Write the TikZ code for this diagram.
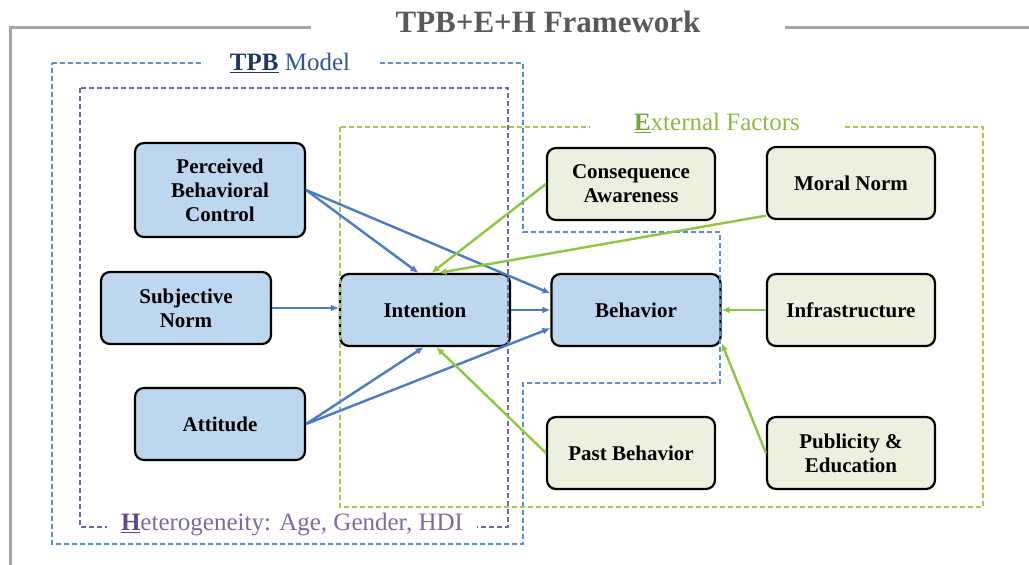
\documentclass[tikz,border=0pt]{standalone}
\usepackage{fontspec}
\setmainfont{Liberation Serif}
\usetikzlibrary{arrows.meta}

\definecolor{framegray}{HTML}{A6A6A6}
\definecolor{titlegray}{HTML}{595959}
\definecolor{tpbfill}{HTML}{BDD7EE}
\definecolor{extfill}{HTML}{EBF1DE}
\definecolor{tpbline}{HTML}{4A7CC4}
\definecolor{extline}{HTML}{8DC63F}
\definecolor{tpbdash}{HTML}{5B8FCF}
\definecolor{hetdash}{HTML}{7E63A3}
\definecolor{extdash}{HTML}{A8C84C}
\definecolor{tpbtext}{HTML}{2F5597}
\definecolor{tpbdark}{HTML}{1F3864}
\definecolor{hettext}{HTML}{7F6A9E}
\definecolor{hetdark}{HTML}{5E4A8B}
\definecolor{exttext}{HTML}{8DB944}
\definecolor{extdark}{HTML}{74A436}

\begin{document}
\begin{tikzpicture}[x=1pt,y=-1pt,
    tpbbox/.style={draw=black, line width=2.2pt, rounded corners=9pt, fill=tpbfill,
        minimum width=170pt, minimum height=72pt, align=center,
        font=\fontsize{21}{24}\selectfont\bfseries},
    extbox/.style={tpbbox, fill=extfill, minimum width=168pt},
    tpbarrow/.style={draw=tpbline, line width=2.4pt, -{Latex[length=8pt,width=7pt]}},
    extarrow/.style={tpbarrow, draw=extline},
    region/.style={line width=2.4pt, dash pattern=on 5pt off 3pt},
    regionlabel/.style={fill=white, inner ysep=2pt, font=\fontsize{25}{25}\selectfont}]
    \useasboundingbox (0,0) rectangle (1029,565);

    % frame and title
    \draw[framegray, line width=3pt] (10,565) -- (10,27) -- (1029,27);
    \node[fill=white, inner xsep=85pt, text=titlegray, font=\fontsize{31}{31}\selectfont\bfseries]
        (title) at (548,22) {TPB+E+H Framework};

    % constructs
    \node[tpbbox, minimum height=94pt] (pbc) at (220,190) {Perceived\\Behavioral\\Control};
    \node[tpbbox] (sn) at (186,308) {Subjective\\Norm};
    \node[tpbbox] (att) at (220,424) {Attitude};
    \node[tpbbox] (int) at (425,310) {Intention};
    \node[tpbbox, minimum width=169pt] (beh) at (636,310) {Behavior};

    \node[extbox] (ca) at (631,184) {Consequence\\Awareness};
    \node[extbox] (mn) at (851,183) {Moral Norm};
    \node[extbox] (inf) at (851,310) {Infrastructure};
    \node[extbox] (pb) at (631,453) {Past Behavior};
    \node[extbox] (pe) at (851,453) {Publicity \&\\Education};

    % regions
    \draw[region, draw=tpbdash] (52,63) -- (523,63) -- (523,232) -- (720,232) -- (720,383)
        -- (523,383) -- (523,544) -- (52,544) -- cycle;
    \draw[region, draw=hetdash] (80,88) rectangle (508,527);
    \draw[region, draw=extdash] (340,127) rectangle (983,507);

    \node[regionlabel, inner xsep=27pt, text=tpbtext] (tpblabel) at (290,63)
        {{\color{tpbdark}\underline{\textbf{TPB}}} Model};
    \node[regionlabel, inner xsep=44pt, text=exttext] (extlabel) at (717,123)
        {{\color{extdark}\underline{\textbf{E}}}xternal Factors};
    \node[regionlabel, inner xsep=14pt, text=hettext] (hetlabel) at (292,525)
        {{\color{hetdark}\underline{\textbf{H}}}eterogeneity: Age, Gender, HDI};

    % TPB paths
    \draw[tpbarrow] (pbc.east) -- (int.100);
    \draw[tpbarrow] (pbc.east) -- (beh.169);
    \draw[tpbarrow] (sn.east) -- (sn.east -| int.west);
    \draw[tpbarrow] (att.east) -- (int.268);
    \draw[tpbarrow] (att.east) -- (beh.192);
    \draw[tpbarrow] (int.east) -- (beh.west);

    % external factors
    \draw[extarrow] (ca.west) -- (int.80);
    \draw[extarrow] (mn.201) -- (int.70);
    \draw[extarrow] (inf.west) -- (beh.east);
    \draw[extarrow] (pb.west) -- (int.287);
    \draw[extarrow] (pe.west) -- (beh.339);
\end{tikzpicture}
\end{document}
